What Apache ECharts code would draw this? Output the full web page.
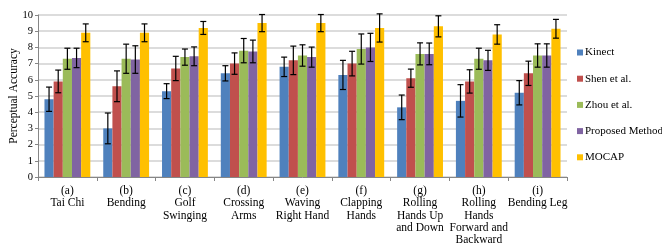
<!DOCTYPE html>
<html>
<head>
<meta charset="utf-8">
<script src="https://cdn.jsdelivr.net/npm/echarts@6/dist/echarts.min.js"></script>
<style>
  html, body { margin: 0; padding: 0; background: #fff; }
  #chart { width: 662px; height: 243px; }
</style>
</head>
<body>
<div id="chart"></div>
<script>
const categories = [
    '(a)\nTai Chi',
    '(b)\nBending',
    '(c)\nGolf\nSwinging',
    '(d)\nCrossing\nArms',
    '(e)\nWaving\nRight Hand',
    '(f)\nClapping\nHands',
    '(g)\nRolling\nHands Up\nand Down',
    '(h)\nRolling\nHands\nForward and\nBackward',
    '(i)\nBending Leg'
]

const seriesNames = ['Kinect', 'Shen et al.', 'Zhou et al.', 'Proposed Method', 'MOCAP']
const colors = ['#4F81BD', '#C0504D', '#9BBB59', '#8064A2', '#FFC000']

const kinect = [4.8, 3.0, 5.3, 6.4, 6.8, 6.3, 4.3, 4.7, 5.2]
const shen = [5.9, 5.6, 6.7, 7.0, 7.2, 7.0, 6.1, 5.9, 6.4]
const zhou = [7.3, 7.3, 7.4, 7.8, 7.5, 7.9, 7.6, 7.3, 7.5]
const proposed = [7.35, 7.25, 7.45, 7.75, 7.4, 8.0, 7.6, 7.2, 7.5]
const mocap = [8.9, 8.9, 9.2, 9.5, 9.5, 9.2, 9.3, 8.8, 9.15]

const kinectErr = [0.75, 0.95, 0.46, 0.47, 0.6, 0.9, 0.76, 1.0, 0.75]
const shenErr = [0.7, 0.95, 0.75, 0.66, 0.88, 0.76, 0.56, 0.72, 0.75]
const zhouErr = [0.65, 0.9, 0.5, 0.75, 0.66, 0.93, 0.68, 0.65, 0.72]
const proposedErr = [0.6, 0.85, 0.58, 0.7, 0.62, 0.87, 0.67, 0.62, 0.72]
const mocapErr = [0.55, 0.55, 0.4, 0.53, 0.53, 0.87, 0.65, 0.6, 0.58]

const yTicks = [0, 1, 2, 3, 4, 5, 6, 7, 8, 9, 10]

const values = [kinect, shen, zhou, proposed, mocap]
const errors = [kinectErr, shenErr, zhouErr, proposedErr, mocapErr]

const CATEGORY_GAP = 0.22
const serif = 'Liberation Serif'

let chart = echarts.init(document.getElementById('chart'))

let series = []

values.forEach((vals, i) => {
    series.push({
        name: seriesNames[i],
        type: 'bar',
        data: vals,
        barGap: '0%',
        barCategoryGap: (CATEGORY_GAP * 100) + '%',
        itemStyle: { color: colors[i] },
        emphasis: { disabled: true }
    })
})

// error bars, one custom series per bar series so they line up
values.forEach((vals, i) => {
    series.push({
        type: 'custom',
        name: seriesNames[i] + ' err',
        data: vals.map((v, k) => [k, v - errors[i][k], v + errors[i][k]]),
        z: 10,
        silent: true,
        renderItem: (params, api) => {
            let idx = api.value(0)
            let low = api.coord([idx, api.value(1)])
            let high = api.coord([idx, api.value(2)])
            let catW = api.size([1, 0])[0]
            let barW = catW * (1 - CATEGORY_GAP) / values.length
            let x = low[0] + (i - (values.length - 1) / 2) * barW
            let cap = 3
            let style = { stroke: '#000', lineWidth: 1.2 }
            return {
                type: 'group',
                children: [
                    { type: 'line', shape: { x1: x, y1: high[1], x2: x, y2: low[1] }, style: style },
                    { type: 'line', shape: { x1: x - cap, y1: high[1], x2: x + cap, y2: high[1] }, style: style },
                    { type: 'line', shape: { x1: x - cap, y1: low[1], x2: x + cap, y2: low[1] }, style: style }
                ]
            }
        }
    })
})

chart.setOption({
    animation: false,
    backgroundColor: '#fff',
    color: colors,
    textStyle: { fontFamily: serif },
    grid: { left: 38, right: 95, top: 15, bottom: 66, outerBoundsMode: 'none', containLabel: false },
    legend: {
        data: seriesNames,
        orient: 'vertical',
        left: 577,
        top: 47,
        padding: 0,
        itemWidth: 6,
        itemHeight: 6,
        itemGap: 15.2,
        icon: 'rect',
        textStyle: {
            fontFamily: 'Liberation Serif',
            fontSize: 11,
            color: '#000',
            padding: [0, 0, 0, -3]
        }
    },
    xAxis: {
        type: 'category',
        data: categories,
        axisLine: { lineStyle: { color: '#868686', width: 1 } },
        axisTick: { show: true, length: 4, lineStyle: { color: '#868686' } },
        axisLabel: {
            interval: 0,
            margin: 8,
            fontFamily: serif,
            fontSize: 11.5,
            lineHeight: 12.3,
            color: '#000'
        }
    },
    yAxis: {
        type: 'value',
        min: yTicks[0],
        max: yTicks[yTicks.length - 1],
        interval: 1,
        name: 'Perceptual Accuracy',
        nameLocation: 'middle',
        nameGap: 18,
        nameMoveOverlap: false,
        nameTextStyle: { fontFamily: serif, fontSize: 11.5, color: '#000' },
        axisLine: { show: true, lineStyle: { color: '#868686' } },
        axisTick: { show: true, length: 3, lineStyle: { color: '#868686' } },
        axisLabel: { fontFamily: serif, fontSize: 10.5, color: '#000', margin: 5 },
        splitLine: { lineStyle: { color: '#D0D0D0', width: 1.5 } }
    },
    series: series
})
</script>
</body>
</html>
